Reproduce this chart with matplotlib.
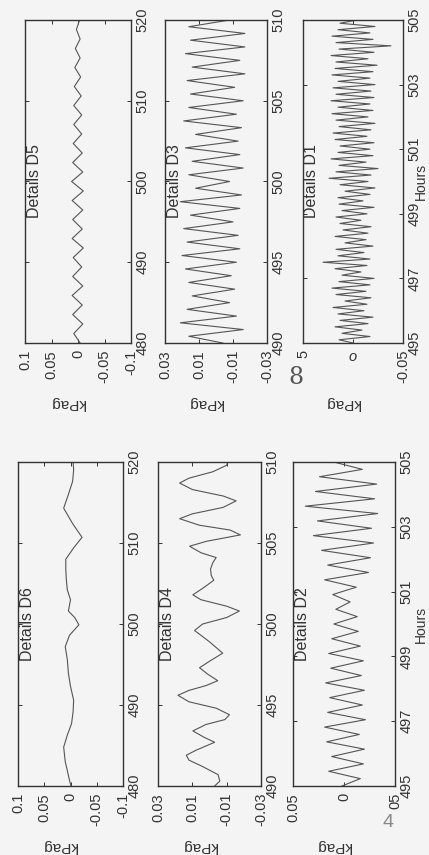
import numpy as np
import matplotlib
matplotlib.use('Agg')
import matplotlib.pyplot as plt

plt.rcParams['font.family'] = ['Liberation Sans', 'DejaVu Sans']

# D5 / D6 : hours 480-520
d5_hours = np.linspace(480, 520, 35)
d5_kpag = [-0.004, 0.008, -0.009, 0.010, -0.008, 0.011, -0.009, 0.010, -0.007, 0.009,
           -0.010, 0.011, -0.008, 0.010, -0.009, 0.011, -0.010, 0.012, -0.009, 0.010,
           -0.008, 0.009, -0.007, 0.008, -0.007, 0.008, -0.006, 0.007, -0.005, 0.006,
           -0.004, 0.005, -0.004, 0.003, -0.003]

d6_hours = [480, 481.0, 481.9, 483.0, 484.8, 486.3, 487.7, 489.2, 490.6, 492.3,
            493.9, 495.6, 497.2, 498.6, 499.9, 500.8, 501.6, 502.3, 503.0, 504.2,
            505.5, 506.8, 508.0, 509.4, 510.7, 512.4, 514.3, 516.0, 517.6, 519.0, 520]
d6_kpag = [-0.001, 0.003, 0.006, 0.010, 0.013, 0.006, -0.002, -0.005, -0.006, 0.000,
           0.004, 0.006, 0.010, 0.002, -0.016, -0.008, 0.004, 0.002, 0.000, 0.006,
           0.008, 0.009, 0.009, -0.006, -0.022, -0.004, 0.013, 0.004, -0.004, -0.006, -0.005]

# D3 / D4 : hours 490-510
d3_hours = np.linspace(490, 510, 49)
d3_kpag = [-0.004, 0.016, -0.016, 0.021, -0.012, 0.017, -0.008, 0.014, -0.011, 0.016,
           -0.009, 0.018, -0.012, 0.020, -0.014, 0.017, -0.013, 0.019, -0.010, 0.015,
           -0.014, 0.021, -0.015, 0.012, -0.008, 0.016, -0.016, 0.014, -0.014, 0.018,
           -0.013, 0.012, -0.015, 0.019, -0.012, 0.016, -0.016, 0.015, -0.011, 0.017,
           -0.017, 0.014, -0.014, 0.018, -0.017, 0.015, -0.017, 0.016, -0.008]

d4_hours = [490.0, 490.3, 490.7, 491.2, 491.6, 491.9, 492.2, 492.7, 493.0, 493.4,
            493.8, 494.1, 494.4, 494.8, 495.2, 495.6, 495.9, 496.2, 496.5, 496.9,
            497.3, 497.7, 498.2, 498.9, 499.6, 500.0, 500.4, 500.8, 501.1, 501.5,
            501.8, 502.2, 502.7, 503.0, 503.4, 503.8, 504.1, 504.4, 504.8, 505.1,
            505.5, 505.8, 506.1, 506.5, 506.8, 507.2, 507.6, 507.9, 508.3, 508.7,
            509.0, 509.4, 509.8, 510.0]
d4_kpag = [-0.003, -0.006, -0.005, 0.004, 0.012, 0.0135, 0.008, -0.003, 0.003, 0.0097,
           0.002, -0.009, -0.0116, -0.004, 0.012, 0.0184, 0.012, 0.002, -0.0048, 0.001,
           0.0058, 0.000, -0.0077, 0.000, 0.0087, 0.004, -0.010, -0.0174, -0.010, 0.005,
           0.0097, 0.004, -0.0025, -0.001, -0.0006, -0.002, -0.0039, 0.005, 0.0116, 0.002,
           -0.018, -0.012, 0.006, 0.0174, 0.010, -0.008, -0.0155, -0.008, 0.010, 0.0174,
           0.012, -0.002, -0.010, -0.0106]

# D1 / D2 : hours 495-505
d1_hours = np.linspace(495, 505, 101)
d1_kpag = [0.000, 0.014, -0.017, 0.011, -0.009, 0.018, -0.015, 0.013, -0.020, 0.015,
           -0.011, 0.020, -0.014, 0.008, -0.018, 0.017, -0.013, 0.021, -0.017, 0.014,
           -0.021, 0.011, -0.008, 0.018, -0.014, 0.030, -0.017, 0.015, -0.011, 0.017,
           -0.020, 0.008, -0.013, 0.018, -0.015, 0.010, -0.018, 0.013, -0.008, 0.017,
           -0.014, 0.011, -0.021, 0.014, -0.010, 0.015, -0.017, 0.008, -0.022, 0.013,
           -0.015, 0.024, -0.018, 0.017, -0.025, 0.014, -0.013, 0.022, -0.020, 0.015,
           -0.017, 0.013, -0.021, 0.018, -0.014, 0.020, -0.018, 0.014, -0.022, 0.017,
           -0.015, 0.021, -0.020, 0.015, -0.017, 0.022, -0.021, 0.017, -0.018, 0.020,
           -0.022, 0.015, -0.017, 0.021, -0.020, 0.018, -0.024, 0.017, -0.015, 0.022,
           -0.021, 0.014, -0.038, 0.017, -0.020, 0.021, -0.017, 0.015, -0.022, 0.013, -0.004]

d2_hours = np.linspace(495, 505, 45)
d2_kpag = [0.002, -0.016, 0.015, -0.019, 0.012, -0.020, 0.017, -0.015, 0.019, -0.021,
           0.016, -0.018, 0.014, -0.020, 0.018, -0.017, 0.013, -0.019, 0.015, -0.016,
           0.012, -0.014, 0.010, -0.013, 0.008, -0.006, 0.011, -0.012, 0.019, -0.024,
           0.016, -0.026, 0.022, -0.029, 0.030, -0.027, 0.026, -0.033, 0.038, -0.030,
           0.028, -0.032, 0.024, -0.018, 0.010]

ticks_40 = [480, 490, 500, 510, 520]
ticks_20 = [490, 495, 500, 505, 510]
ticks_10 = [495, 497, 499, 501, 503, 505]
amp_01 = [0.1, 0.05, 0, -0.05, -0.1]
amp_01_lbl = ['0.1', '0.05', '0', '-0.05', '-0.1']
amp_003 = [0.03, 0.01, -0.01, -0.03]
amp_003_lbl = ['0.03', '0.01', '-0.01', '-0.03']
amp_005 = [0.05, 0, -0.05]
d2_amp_lbl = ['0.05', '0', '05']
d1_amp_lbl = ['5', 'o', '-0.05']

BG = '#f4f4f4'
INK = '#333333'
LINE = '#555555'

fig = plt.figure(figsize=(4.29, 8.55), dpi=100, facecolor=BG)


def px_rect(x0, y0, x1, y1):
    # image pixel box -> figure fraction
    return [x0 / 429, 1 - y1 / 855, (x1 - x0) / 429, (y1 - y0) / 855]


def draw_panel(rect, hours, kpag, name, tlim, tticks, alim, aticks, alabels, hours_label=False):
    ax = fig.add_axes(rect, facecolor=BG)
    ax.plot(kpag, hours, color=LINE, lw=0.8)
    ax.set_xlim(alim, -alim)
    ax.set_ylim(tlim)
    ax.set_xticks(aticks)
    ax.set_xticklabels(alabels)
    ax.set_yticks(tticks)
    ax.set_yticklabels([str(t) for t in tticks])
    ax.yaxis.tick_right()
    ax.tick_params(axis='both', direction='in', length=3, width=0.7, color=INK,
                   labelsize=10.5, labelcolor=INK, labelrotation=90)
    ax.tick_params(axis='x', top=True, bottom=True, pad=5)
    ax.tick_params(axis='y', left=True, right=True, pad=3)
    for lbl in ax.get_yticklabels():
        lbl.set_va('center')
        lbl.set_ha('left')
    for sp in ax.spines.values():
        sp.set_color(INK)
        sp.set_linewidth(1.0)
    ax.text(0.09, 0.5, name, rotation=90, transform=ax.transAxes,
            ha='center', va='center', fontsize=11.5, color=INK)
    ax.set_xlabel('kPag', rotation=180, fontsize=11, color=INK)
    ax.xaxis.label.set_va('center')
    ax.xaxis.set_label_coords(0.4, -0.185)
    if hours_label:
        ax.yaxis.set_label_position('right')
        ax.set_ylabel('Hours', rotation=90, fontsize=10, color=INK)
        ax.yaxis.label.set_va('center')
    return ax


ax5 = draw_panel(px_rect(25, 20, 131, 343), d5_hours, d5_kpag, 'Details D5',
                 (480, 520), ticks_40, 0.1, amp_01, amp_01_lbl)
ax3 = draw_panel(px_rect(165, 20, 267, 343), d3_hours, d3_kpag, 'Details D3',
                 (490, 510), ticks_20, 0.03, amp_003, amp_003_lbl)
ax1 = draw_panel(px_rect(303, 20, 403, 343), d1_hours, d1_kpag, 'Details D1',
                 (495, 505), ticks_10, 0.05, amp_005, d1_amp_lbl, hours_label=True)
ax1.yaxis.set_label_coords(1.18, 0.5)
ax1.get_xticklabels()[1].set_style('italic')
ax1.get_xticklabels()[1].set_rotation(0)

ax6 = draw_panel(px_rect(18, 462, 123, 786), d6_hours, d6_kpag, 'Details D6',
                 (480, 520), ticks_40, 0.1, amp_01, amp_01_lbl)
ax4 = draw_panel(px_rect(158, 462, 261, 786), d4_hours, d4_kpag, 'Details D4',
                 (490, 510), ticks_20, 0.03, amp_003, amp_003_lbl)
ax2 = draw_panel(px_rect(293, 462, 395, 786), d2_hours, d2_kpag, 'Details D2',
                 (495, 505), ticks_10, 0.05, amp_005, d2_amp_lbl, hours_label=True)
ax2.yaxis.set_label_coords(1.255, 0.5)

# scan leftovers
fig.text(296 / 429, 1 - 377 / 855, '8', fontsize=17, family='DejaVu Serif',
         color=LINE, ha='center', va='center')
fig.text(388 / 429, 1 - 822 / 855, '4', fontsize=14, color='#888888',
         ha='center', va='center')

fig.savefig('out.png', dpi=100, facecolor=BG)
